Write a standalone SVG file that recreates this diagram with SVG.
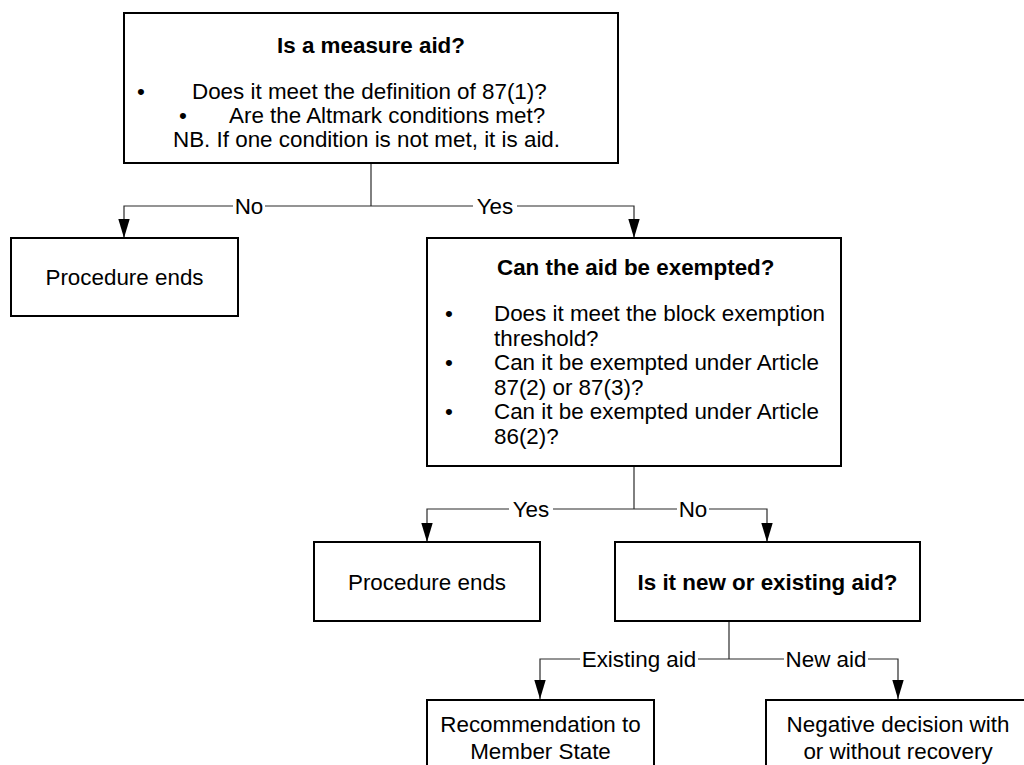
<svg xmlns="http://www.w3.org/2000/svg" width="1024" height="765" viewBox="0 0 1024 765">
  <style>
    .box { fill: #ffffff; stroke: #000000; stroke-width: 2; }
    .wire { fill: none; stroke: #2a2a2a; stroke-width: 1.2; }
    .t { font-family: "Liberation Sans", Arial, sans-serif; font-size: 22.4px; fill: #000000; }
    .b { font-weight: bold; }
    .mid { text-anchor: middle; }
    .lblbg { fill: #ffffff; }
  </style>
  <defs>
    <marker id="arrow" viewBox="0 0 20 12" refX="20" refY="6" markerWidth="19" markerHeight="13" markerUnits="userSpaceOnUse" orient="auto" overflow="visible">
      <path d="M0,0 L20,6 L0,12 Z" fill="#000000"/>
    </marker>
  </defs>
  <rect width="1024" height="765" fill="#ffffff"/>

  <g id="connectors">
    <!-- aid question to its two outcomes -->
    <path class="wire" d="M371,163 V206"/>
    <path class="wire" d="M371,206 H124 V238" marker-end="url(#arrow)"/>
    <path class="wire" d="M371,206 H634 V238" marker-end="url(#arrow)"/>
    <rect class="lblbg" x="233" y="195" width="32" height="22"/>
    <text class="t mid" x="249" y="214">No</text>
    <rect class="lblbg" x="473" y="195" width="44" height="22"/>
    <text class="t mid" x="495" y="214">Yes</text>

    <!-- exemption question -->
    <path class="wire" d="M634,466 V509"/>
    <path class="wire" d="M634,509 H427 V542" marker-end="url(#arrow)"/>
    <path class="wire" d="M634,509 H767 V542" marker-end="url(#arrow)"/>
    <rect class="lblbg" x="509" y="498" width="44" height="22"/>
    <text class="t mid" x="531" y="517">Yes</text>
    <rect class="lblbg" x="677" y="498" width="32" height="22"/>
    <text class="t mid" x="693" y="517">No</text>

    <!-- new or existing aid -->
    <path class="wire" d="M729,621 V659"/>
    <path class="wire" d="M729,659 H540 V699" marker-end="url(#arrow)"/>
    <path class="wire" d="M729,659 H898 V699" marker-end="url(#arrow)"/>
    <rect class="lblbg" x="580" y="648" width="118" height="22"/>
    <text class="t mid" x="639" y="667">Existing aid</text>
    <rect class="lblbg" x="784" y="648" width="84" height="22"/>
    <text class="t mid" x="826" y="667">New aid</text>
  </g>

  <g id="is-aid">
    <rect class="box" x="124" y="13" width="494" height="150"/>
    <text class="t b mid" x="371" y="53">Is a measure aid?</text>
    <text class="t mid" x="141" y="99">•</text>
    <text class="t" x="192" y="99">Does it meet the definition of 87(1)?</text>
    <text class="t mid" x="183" y="123">•</text>
    <text class="t" x="229" y="123">Are the Altmark conditions met?</text>
    <text class="t" x="173" y="147">NB. If one condition is not met, it is aid.</text>
  </g>

  <g id="ends-1">
    <rect class="box" x="11" y="238" width="227" height="78"/>
    <text class="t mid" x="124.5" y="285">Procedure ends</text>
  </g>

  <g id="exempted">
    <rect class="box" x="427" y="238" width="414" height="228"/>
    <text class="t b" x="497" y="275">Can the aid be exempted?</text>
    <text class="t mid" x="449" y="321">•</text>
    <text class="t" x="494" y="321">Does it meet the block exemption</text>
    <text class="t" x="494" y="345.5">threshold?</text>
    <text class="t mid" x="449" y="370">•</text>
    <text class="t" x="494" y="370">Can it be exempted under Article</text>
    <text class="t" x="494" y="394.5">87(2) or 87(3)?</text>
    <text class="t mid" x="449" y="419">•</text>
    <text class="t" x="494" y="419">Can it be exempted under Article</text>
    <text class="t" x="494" y="443.5">86(2)?</text>
  </g>

  <g id="ends-2">
    <rect class="box" x="314" y="542" width="226" height="79"/>
    <text class="t mid" x="427" y="590">Procedure ends</text>
  </g>

  <g id="new-or-existing">
    <rect class="box" x="615" y="542" width="305" height="79"/>
    <text class="t b mid" x="767.5" y="590">Is it new or existing aid?</text>
  </g>

  <g id="recommendation">
    <rect class="box" x="427" y="700" width="227" height="90"/>
    <text class="t mid" x="540.5" y="732">Recommendation to</text>
    <text class="t mid" x="540.5" y="759">Member State</text>
  </g>

  <g id="negative-decision">
    <rect class="box" x="766" y="700" width="266" height="90"/>
    <text class="t mid" x="898" y="732">Negative decision with</text>
    <text class="t mid" x="898" y="759">or without recovery</text>
  </g>
</svg>
